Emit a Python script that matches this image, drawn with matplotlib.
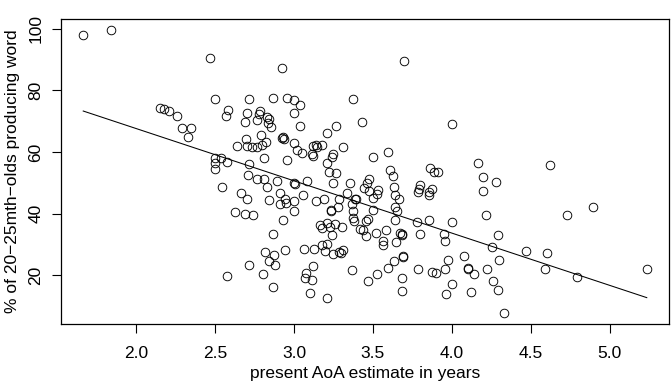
import matplotlib
matplotlib.use("Agg")
import matplotlib.pyplot as plt
import numpy as np

plt.rcParams["font.family"] = ["Liberation Sans", "DejaVu Sans"]

# AoA estimate (years) for each word
aoa = [
    1.665, 1.842, 2.149, 2.175, 2.209, 2.259, 2.291, 2.350, 2.331,
    2.468, 2.922, 2.497, 2.713, 2.865, 2.953, 3.000, 3.036, 3.373, 2.582,
    2.567, 2.704, 2.787, 2.778, 2.998, 2.690, 2.764, 2.829, 2.842, 2.833,
    2.856, 3.038, 3.266, 3.209, 2.694, 2.789, 2.825, 2.797, 2.766, 2.736,
    2.702, 2.639, 2.928, 2.937, 2.925, 3.000, 3.017, 3.053, 3.118, 3.137,
    3.143, 3.175, 3.114, 3.120, 3.312, 3.249, 3.238, 3.209, 2.810, 2.953,
    2.717, 2.497, 2.535, 2.578, 2.497, 2.497,
    3.698, 3.432, 3.998, 3.500, 3.597, 4.165,
    4.624,
    2.711, 2.766, 2.812, 2.831, 2.892, 2.542, 2.998, 3.004, 3.080, 2.665,
    2.704, 2.839, 2.913, 2.941, 2.950, 2.909, 2.998, 2.998, 3.057, 3.139,
    3.190, 2.628, 2.692, 2.738, 2.932, 2.869, 3.223, 3.266, 3.247, 3.356,
    3.333, 3.285, 3.384, 3.278, 3.367, 3.232, 3.236, 3.371, 3.373, 3.382,
    3.165, 3.175, 3.211, 3.230, 3.259, 3.304, 3.238, 2.818, 2.873, 2.842,
    2.882, 2.945, 2.713, 2.578, 2.806, 2.865, 3.065, 3.128, 3.179, 3.211,
    3.198, 3.249, 3.287, 3.300, 3.310, 3.118, 3.076, 3.067, 3.111, 3.099,
    3.209, 3.369,
    3.610, 3.624, 3.863, 3.884, 3.909, 4.198, 4.280, 4.198, 4.215, 3.477,
    3.462, 3.441, 3.477, 3.534, 3.525, 3.500, 3.392, 3.635, 3.641, 3.665,
    3.641, 3.652, 3.789, 3.799, 3.785, 3.852, 3.858, 3.875, 3.500, 3.470,
    3.458, 3.418, 3.434, 3.459, 3.519, 3.582, 3.563, 3.565, 3.637, 3.673,
    3.681, 3.684, 3.647, 3.780, 3.856, 3.799, 3.998, 3.951, 3.956, 3.690,
    3.692, 3.631, 3.597, 3.527, 3.468, 3.684, 3.684, 3.785, 3.875, 3.899,
    3.958, 3.975, 4.000, 3.962, 4.076, 4.101, 4.104, 4.143, 4.118, 4.222,
    4.257, 4.293, 4.297, 4.263, 4.293, 4.333,
    4.732, 4.894, 4.470, 4.601, 4.589, 4.795, 5.234,
]

# % of 20-25 month olds producing the word
producing = [
    97.8, 99.45, 74.3, 73.8, 73.4, 71.6, 67.7, 67.7, 64.7,
    90.5, 87.3, 77.1, 77.2, 77.5, 77.6, 77.0, 75.1, 77.2, 73.6,
    71.7, 72.8, 73.3, 72.3, 72.5, 69.6, 70.4, 71.2, 70.7, 69.4,
    68.0, 68.5, 68.5, 66.3, 64.3, 65.4, 63.1, 62.4, 61.7, 61.5,
    62.1, 61.9, 64.9, 64.2, 64.5, 62.9, 60.8, 59.7, 61.9, 62.4,
    61.7, 62.2, 59.5, 58.6, 61.7, 59.3, 58.4, 56.5, 58.0, 57.5,
    56.2, 58.2, 57.9, 56.8, 56.3, 54.4,
    89.5, 69.8, 69.1, 58.3, 60.0, 56.3,
    55.9,
    52.7, 51.4, 51.1, 48.8, 50.6, 48.8, 49.8, 49.5, 50.7, 46.6,
    44.9, 44.5, 46.6, 44.8, 43.6, 43.0, 44.0, 41.0, 46.0, 44.0,
    44.9, 40.5, 40.0, 39.7, 37.8, 33.5, 53.4, 53.1, 49.8, 49.9,
    46.6, 44.7, 44.7, 42.3, 43.2, 40.8, 41.1, 40.8, 38.6, 37.5,
    36.4, 35.3, 36.9, 35.8, 36.7, 35.8, 33.1, 27.5, 26.5, 24.8,
    23.5, 28.3, 23.5, 19.9, 20.3, 16.1, 28.4, 28.6, 30.0, 30.3,
    27.8, 26.9, 27.6, 27.3, 28.2, 23.1, 20.8, 19.2, 18.6, 14.3,
    12.8, 21.9,
    54.1, 52.3, 54.8, 53.5, 53.5, 51.8, 50.3, 47.4, 39.7, 51.1,
    49.8, 48.4, 47.5, 47.6, 46.4, 45.1, 44.6, 48.8, 46.2, 44.7,
    42.2, 40.8, 47.9, 49.4, 47.1, 46.9, 46.0, 48.1, 41.2, 38.3,
    37.5, 35.1, 34.6, 32.7, 33.6, 34.6, 31.2, 30.0, 38.0, 33.8,
    33.1, 33.4, 30.9, 37.4, 38.0, 33.4, 37.4, 33.5, 31.3, 26.0,
    26.2, 24.5, 22.3, 20.5, 18.1, 19.1, 14.8, 22.2, 21.2, 20.7,
    22.0, 25.0, 17.3, 13.9, 26.4, 22.3, 22.0, 20.6, 14.5, 22.1,
    29.2, 33.0, 25.0, 18.3, 15.4, 7.9,
    39.6, 42.1, 28.0, 27.1, 22.1, 19.5, 22.0,
]

# fitted regression line
fit_intercept = 101.5
fit_slope = -16.95

x_ticks = [2.0, 2.5, 3.0, 3.5, 4.0, 4.5, 5.0]
y_ticks = [20, 40, 60, 80, 100]

x = np.array(aoa)
y = np.array(producing)

fig = plt.figure(figsize=(6.72, 3.88), dpi=100)
ax = fig.add_axes([60.7 / 672, 1 - 324 / 388, (669.3 - 60.7) / 672, (324 - 19) / 388])

ax.plot(x, y, "o", markersize=6.2, markerfacecolor="none",
        markeredgecolor="black", markeredgewidth=0.65)

line_x = np.array([x.min(), x.max()])
ax.plot(line_x, fit_intercept + fit_slope * line_x, color="black", linewidth=0.75)

# R style 4% padding
xr = x.max() - x.min()
yr = y.max() - y.min()
ax.set_xlim(x.min() - 0.04 * xr, x.max() + 0.04 * xr)
ax.set_ylim(y.min() - 0.04 * yr, y.max() + 0.04 * yr)

ax.set_xticks(x_ticks)
ax.set_xticklabels([f"{t:.1f}" for t in x_ticks])
ax.set_yticks(y_ticks)
ax.set_yticklabels([str(t) for t in y_ticks], rotation=90, va="center")

ax.tick_params(direction="out", length=6.5, width=0.8, labelsize=12.5,
               colors="black")
ax.tick_params(axis="x", pad=9)
ax.tick_params(axis="y", pad=6)
for s in ax.spines.values():
    s.set_linewidth(0.9)
    s.set_color("black")

ax.set_xlabel("present AoA estimate in years", fontsize=12.5, labelpad=4)
ax.set_ylabel("% of 20\u221225mth\u2212olds producing word", fontsize=12.5, labelpad=6)

fig.savefig("out.png", dpi=100)
